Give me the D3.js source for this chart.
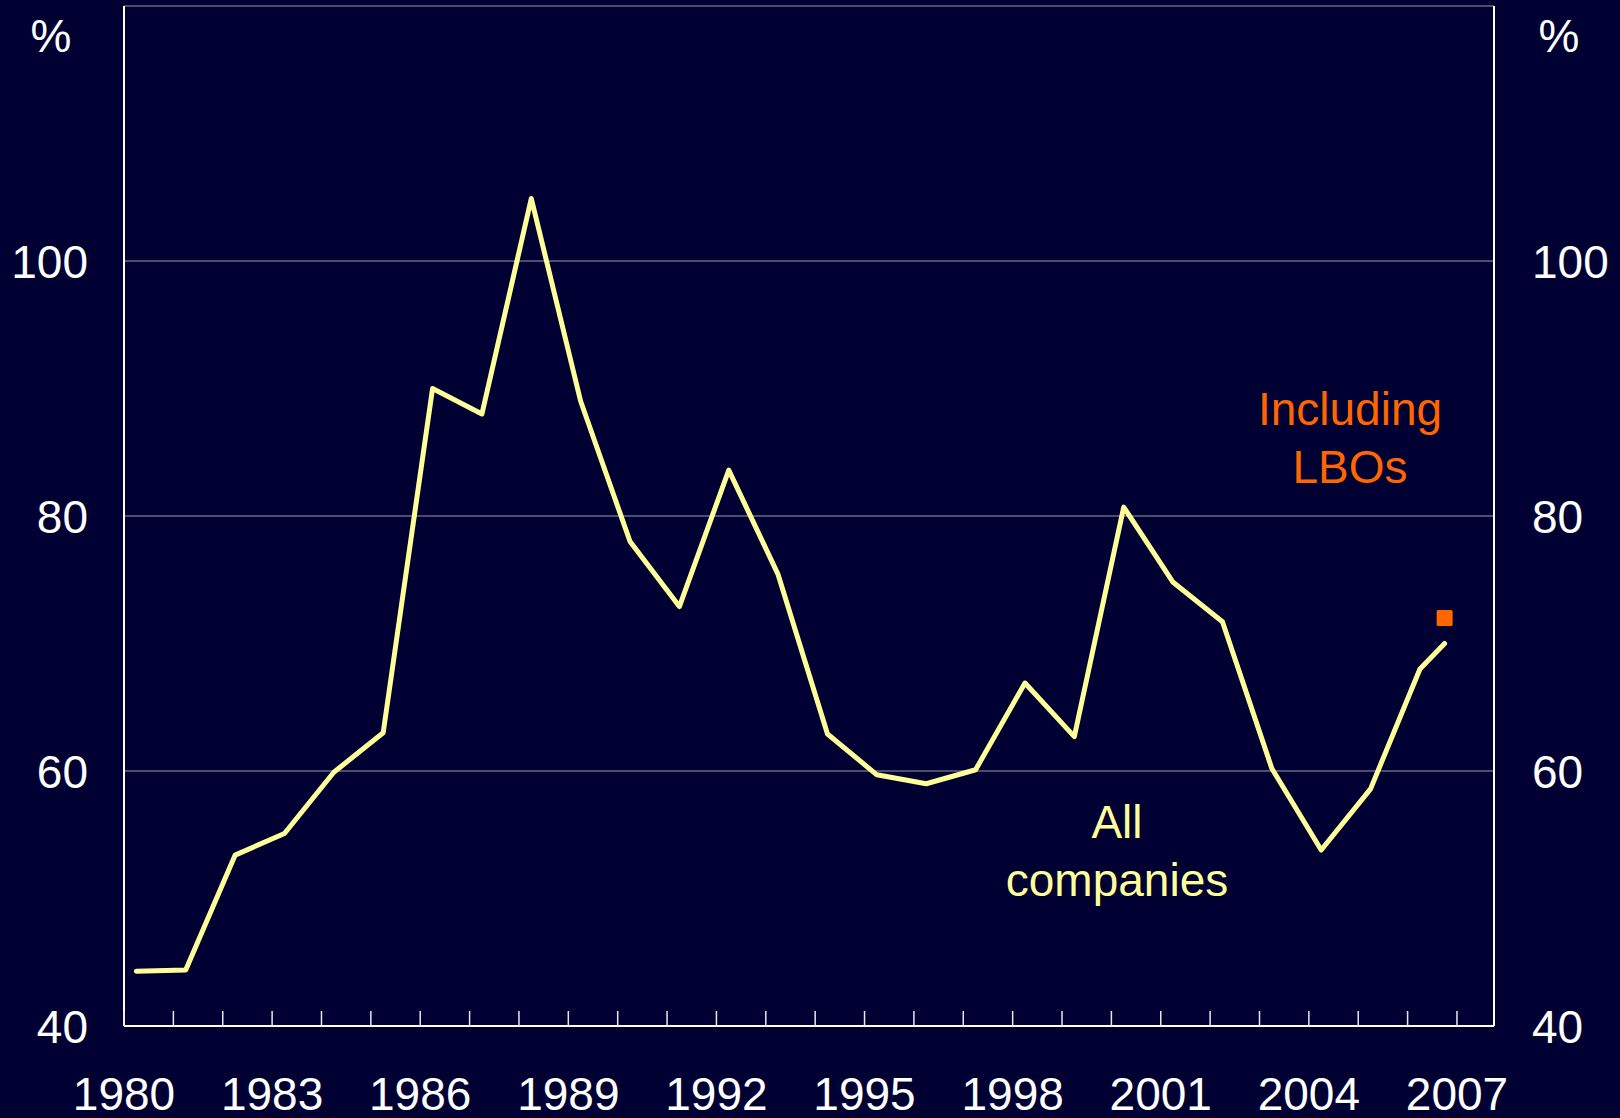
<!DOCTYPE html>
<meta charset="utf-8">
<style>
    body { margin: 0; background: #000033; }
    text { font-family: "Liberation Sans", Arial, sans-serif; font-size: 46px; }
</style>
<body>
<script src="https://d3js.org/d3.v7.min.js"></script>
<script>

    // annual observations plotted a quarter into each year; last one is a partial year
    var years = [1980.25, 1981.25, 1982.25, 1983.25, 1984.25, 1985.25, 1986.25, 1987.25, 1988.25, 1989.25,
                 1990.25, 1991.25, 1992.25, 1993.25, 1994.25, 1995.25, 1996.25, 1997.25, 1998.25, 1999.25,
                 2000.25, 2001.25, 2002.25, 2003.25, 2004.25, 2005.25, 2006.25, 2006.75];
    var allCompanies = [44.3, 44.4, 53.4, 55.1, 59.9, 63.0, 90.0, 88.0, 104.9, 89.0,
                        78.0, 72.9, 83.6, 75.4, 62.9, 59.7, 59.0, 60.1, 66.9, 62.7,
                        80.7, 74.8, 71.7, 60.2, 53.8, 58.6, 68.0, 70.0];
    var lboYear = [2006.75];
    var includingLBOs = [72.0];
    var yTicks = [40, 60, 80, 100];
    var xLabels = [1980, 1983, 1986, 1989, 1992, 1995, 1998, 2001, 2004, 2007];
    var xMinor = d3.range(1980, 2008);

    var width = 1620, height = 1118;
    var plotL = 124, plotR = 1494, plotT = 6, plotB = 1026;

    var x = d3.scaleLinear().domain([1980, 2007.75]).range([plotL, plotR]);
    var y = d3.scaleLinear().domain([40, 120]).range([plotB, plotT]);

    var svg = d3.select("body").append("svg")
        .attr("width", width)
        .attr("height", height);

    svg.append("rect").attr("width", width).attr("height", height).attr("fill", "#000033");

    // gridlines
    svg.selectAll(".grid")
        .data([60, 80, 100, 120])
        .enter().append("line")
        .attr("x1", plotL).attr("x2", plotR)
        .attr("y1", function(d) { return y(d); })
        .attr("y2", function(d) { return y(d); })
        .attr("stroke", "#9a9aa8")
        .attr("stroke-width", 1.2);

    // frame: left, right, bottom
    var frame = svg.append("g").attr("stroke", "#ffffff").attr("stroke-width", 2);
    frame.append("line").attr("x1", plotL).attr("x2", plotL).attr("y1", plotT).attr("y2", plotB);
    frame.append("line").attr("x1", plotR).attr("x2", plotR).attr("y1", plotT).attr("y2", plotB);
    frame.append("line").attr("x1", plotL).attr("x2", plotR).attr("y1", plotB).attr("y2", plotB);

    // year ticks pointing inward
    svg.selectAll(".tick")
        .data(xMinor)
        .enter().append("line")
        .attr("x1", function(d) { return x(d); })
        .attr("x2", function(d) { return x(d); })
        .attr("y1", plotB).attr("y2", plotB - 15)
        .attr("stroke", "#e8e8f0")
        .attr("stroke-width", 1.5);

    // y labels both sides
    svg.selectAll(".ylab-l")
        .data(yTicks)
        .enter().append("text")
        .attr("x", 88)
        .attr("y", function(d) { return y(d); })
        .attr("dy", "0.36em")
        .attr("text-anchor", "end")
        .attr("fill", "#ffffff")
        .text(function(d) { return d; });

    svg.selectAll(".ylab-r")
        .data(yTicks)
        .enter().append("text")
        .attr("x", 1532)
        .attr("y", function(d) { return y(d); })
        .attr("dy", "0.36em")
        .attr("text-anchor", "start")
        .attr("fill", "#ffffff")
        .text(function(d) { return d; });

    svg.append("text").attr("x", 51).attr("y", 52).attr("text-anchor", "middle")
        .attr("fill", "#ffffff").text("%");
    svg.append("text").attr("x", 1559).attr("y", 52).attr("text-anchor", "middle")
        .attr("fill", "#ffffff").text("%");

    // x labels
    svg.selectAll(".xlab")
        .data(xLabels)
        .enter().append("text")
        .attr("x", function(d) { return x(d); })
        .attr("y", 1110)
        .attr("text-anchor", "middle")
        .attr("fill", "#ffffff")
        .text(function(d) { return d; });

    // series line
    var line = d3.line()
        .x(function(d, i) { return x(years[i]); })
        .y(function(d) { return y(d); });

    svg.append("path")
        .datum(allCompanies)
        .attr("d", line)
        .attr("fill", "none")
        .attr("stroke", "#ffff99")
        .attr("stroke-width", 5)
        .attr("stroke-linejoin", "round")
        .attr("stroke-linecap", "round");

    // LBO point
    svg.selectAll(".lbo")
        .data(includingLBOs)
        .enter().append("rect")
        .attr("x", function(d, i) { return x(lboYear[i]) - 8; })
        .attr("y", function(d) { return y(d) - 8; })
        .attr("width", 16).attr("height", 16)
        .attr("rx", 1.5)
        .attr("fill", "#ff6600");

    // annotations
    var lbo = svg.append("text").attr("fill", "#ff6600").attr("text-anchor", "middle");
    lbo.append("tspan").attr("x", 1350).attr("y", 425).text("Including");
    lbo.append("tspan").attr("x", 1350).attr("y", 483).text("LBOs");

    var all = svg.append("text").attr("fill", "#ffff99").attr("text-anchor", "middle");
    all.append("tspan").attr("x", 1117).attr("y", 838).text("All");
    all.append("tspan").attr("x", 1117).attr("y", 896).text("companies");

</script>
